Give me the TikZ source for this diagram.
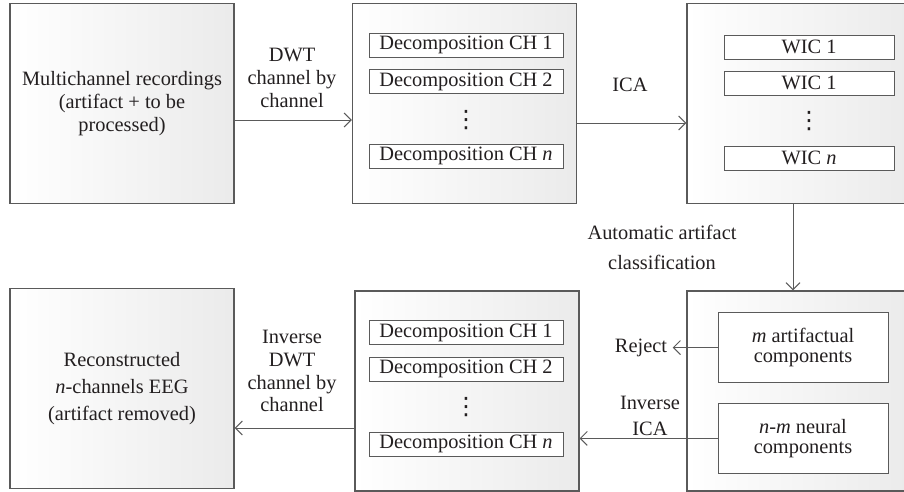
\documentclass[tikz,border=0pt]{standalone}
\usepackage{fontspec}
\setmainfont{Liberation Serif}
\newfontfamily\dotsfont{DejaVu Sans}
\usetikzlibrary{arrows.meta,positioning,calc}
\definecolor{fgray}{HTML}{5A5A5A}
\definecolor{ftext}{HTML}{231F20}
\tikzset{
  stage/.style   = {draw=fgray, line width=0.9pt, left color=white, right color=black!8,
                    minimum width=5.6cm, minimum height=5cm, align=center, inner sep=0pt},
  chbox/.style   = {draw=fgray, line width=0.7pt, fill=white, minimum width=4.85cm,
                    minimum height=0.6cm, inner sep=0pt},
  wicbox/.style  = {chbox, minimum width=4.25cm},
  compbox/.style = {draw=fgray, line width=0.7pt, fill=white, minimum width=4.25cm,
                    minimum height=1.75cm, align=center},
  vdot/.style    = {inner sep=0pt, font=\dotsfont\fontsize{17}{17}\selectfont},
  sig/.style     = {-{Straight Barb[length=1.75mm,width=3.5mm]}, fgray, line width=0.7pt},
  lbl/.style     = {align=center, inner sep=1pt},
}

\begin{document}
\begin{tikzpicture}[x=1cm,y=1cm,font=\fontsize{14.5}{16.3}\selectfont,text=ftext]
\useasboundingbox (0,0) rectangle (22.6,-12.3);
% top row: recordings, DWT per channel, wavelet ICs
\node[stage] (rec) at (3.05,-2.59) {Multichannel recordings\\(artifact + to be\\processed)};
\node[stage] (dec) at (11.61,-2.59) {};
\node[stage] (wic) at (19.975,-2.59) {};
\node[chbox] (d1) at (11.65,-1.125) {Decomposition CH 1};
\node[chbox] (d2) at (11.65,-2.04) {Decomposition CH 2};
\node[vdot] (d3) at (11.65,-3.0) {⋮};
\node[chbox] (dn) at (11.65,-3.9) {Decomposition CH \textit{n}};
\node[wicbox] (w1) at (20.225,-1.175) {WIC 1};
\node[wicbox] (w2) at (20.225,-2.075) {WIC 1};
\node[vdot] (w3) at (20.225,-3.025) {⋮};
\node[wicbox] (wn) at (20.225,-3.95) {WIC \textit{n}};
% bottom row
\node[stage] (rcn) at (3.05,-9.71) {Reconstructed\\[3pt]\textit{n}-channels EEG\\[3pt](artifact removed)};
\node[stage] (idec) at (11.675,-9.775) {};
\node[stage] (cls) at (19.975,-9.775) {};
\node[chbox] (e1) at (11.65,-8.3125) {Decomposition CH 1};
\node[chbox] (e2) at (11.65,-9.225) {Decomposition CH 2};
\node[vdot] (e3) at (11.65,-10.175) {⋮};
\node[chbox] (en) at (11.65,-11.1) {Decomposition CH \textit{n}};
\node[compbox] (art) at (20.075,-8.69) {\textit{m} artifactual\\[-2.5pt]components};
\node[compbox] (neu) at (20.075,-10.96) {\textit{n}-\textit{m} neural\\[-2.5pt]components};
% step labels
\node[lbl] (dwt) at (7.3,-1.95) {DWT\\channel by\\channel};
\node[lbl] (ica) at (15.75,-2.125) {ICA};
\node[lbl] (auto) at (16.55,-6.175) {Automatic artifact\\[5pt]classification};
\node[lbl] (rej) at (16.025,-8.69) {Reject};
\node[lbl] (iica) at (16.25,-10.4) {Inverse\\[2pt]ICA};
\node[lbl] (idwt) at (7.3,-9.275) {Inverse\\DWT\\channel by\\channel};
\coordinate (back) at (7.3,-10.7);
% connectors
\draw[sig] (rec.east |- d3) -- (dec.west |- d3);
\draw[sig] ([yshift=-0.05cm]dec.east |- w3) -- ([yshift=-0.05cm]wic.west |- w3);
\draw[sig] ([xshift=-0.15cm]wic.south) -- ([xshift=-0.15cm]cls.north);
\draw[sig] (art.west) -- ([xshift=0.1cm]rej.east);
\draw[sig] (neu.west) -- (neu.west -| idec.east);
\draw[sig] (idec.west |- back) -- (rcn.east |- back);
\end{tikzpicture}
\end{document}
